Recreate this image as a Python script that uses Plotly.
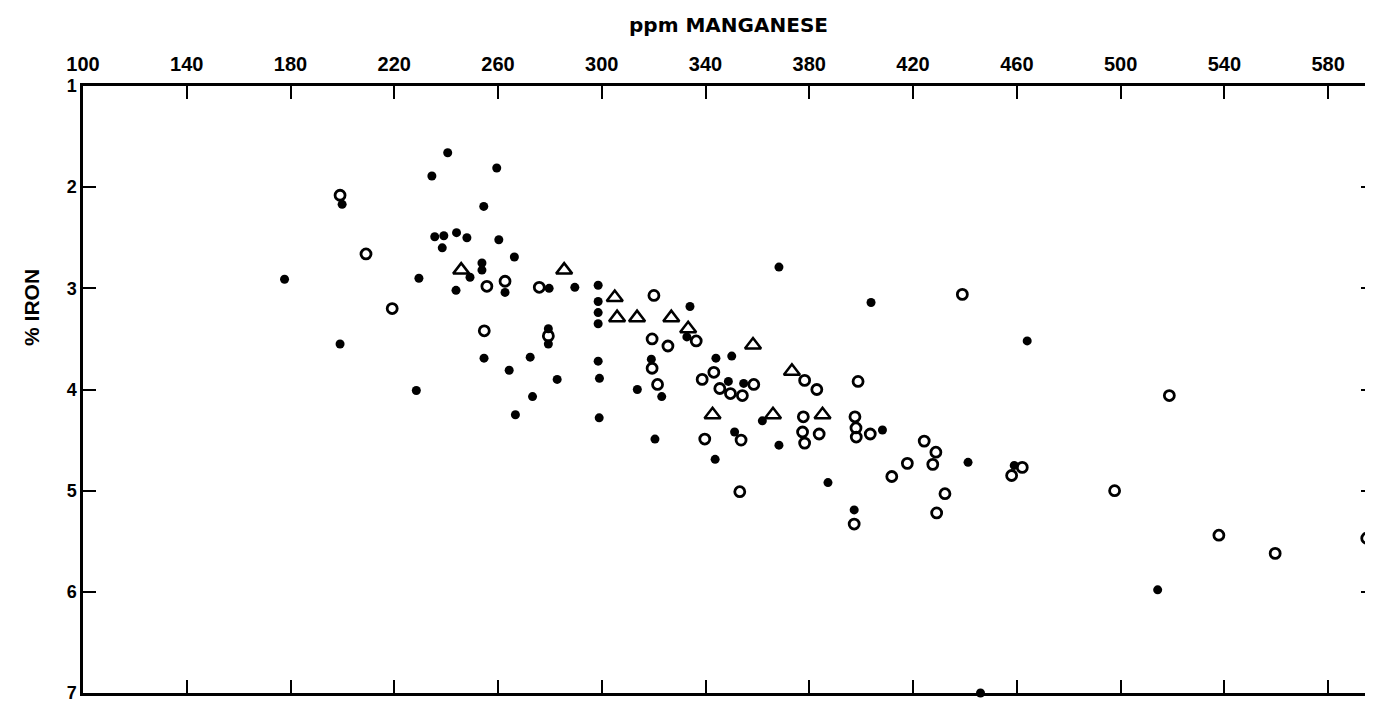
import plotly.graph_objects as go

# ppm manganese (x) and % iron (y)
solid_mn = [240.6, 259.5, 234.5, 199.9, 254.5, 235.6, 239.1, 244.0, 248.0, 260.3,
            238.5, 266.3, 249.2, 253.8, 253.8, 262.7, 229.5, 243.8, 199.1, 254.6,
            272.4, 264.3, 228.5, 273.3, 266.7, 177.7, 279.7, 289.6, 298.6, 298.6,
            298.6, 298.6, 334.0, 332.8, 279.4, 279.4, 298.6, 319.1, 344.0, 350.1,
            282.8, 299.1, 348.8, 354.7, 313.7, 323.1, 299.0, 361.9, 351.2, 320.5,
            343.7, 368.3, 403.8, 408.2, 368.3, 441.2, 387.2, 397.3, 459.0, 464.0,
            514.3, 446.0]
solid_fe = [1.66, 1.81, 1.89, 2.17, 2.19, 2.49, 2.48, 2.45, 2.50, 2.52,
            2.60, 2.69, 2.89, 2.75, 2.82, 3.04, 2.90, 3.02, 3.55, 3.69,
            3.68, 3.81, 4.01, 4.07, 4.25, 2.91, 3.00, 2.99, 2.97, 3.13,
            3.24, 3.35, 3.18, 3.48, 3.40, 3.55, 3.72, 3.70, 3.69, 3.67,
            3.90, 3.89, 3.92, 3.94, 4.00, 4.07, 4.28, 4.31, 4.42, 4.49,
            4.69, 2.79, 3.14, 4.40, 4.55, 4.72, 4.92, 5.19, 4.75, 3.52,
            5.98, 7.00]

open_mn = [199.1, 209.1, 255.7, 262.7, 219.2, 254.7, 275.9, 320.1, 336.4, 279.4,
           319.4, 325.5, 319.4, 321.5, 343.2, 338.7, 345.5, 349.6, 354.2, 358.6,
           339.7, 353.7, 439.0, 378.2, 382.9, 398.8, 377.7, 397.6, 377.4, 383.8,
           398.0, 398.1, 403.5, 378.2, 424.3, 428.8, 427.6, 417.8, 411.8, 397.3,
           432.3, 429.1, 458.0, 462.1, 518.8, 497.7, 537.9, 559.6, 594.9, 353.2]
open_fe = [2.08, 2.66, 2.98, 2.93, 3.20, 3.42, 2.99, 3.07, 3.52, 3.47,
           3.50, 3.57, 3.79, 3.95, 3.83, 3.90, 3.99, 4.04, 4.06, 3.95,
           4.49, 4.50, 3.06, 3.91, 4.00, 3.92, 4.27, 4.27, 4.42, 4.44,
           4.38, 4.47, 4.44, 4.53, 4.51, 4.62, 4.74, 4.73, 4.86, 5.33,
           5.03, 5.22, 4.85, 4.77, 4.06, 5.00, 5.44, 5.62, 5.47, 5.01]

tri_mn = [245.8, 285.5, 305.0, 305.9, 313.6, 326.8, 333.3, 358.3, 342.7, 373.3,
          366.0, 385.1]
tri_fe = [2.82, 2.82, 3.09, 3.29, 3.29, 3.29, 3.40, 3.56, 4.25, 3.82,
          4.25, 4.25]

x_ticks = list(range(100, 600, 40))
y_ticks = [1, 2, 3, 4, 5, 6, 7]

FONT = "Liberation Sans"
WIDE = "DejaVu Sans"

fig = go.Figure()
fig.add_trace(go.Scatter(x=solid_mn, y=solid_fe, mode="markers", cliponaxis=False,
                         marker=dict(symbol="circle", size=9, color="black")))
fig.add_trace(go.Scatter(x=open_mn, y=open_fe, mode="markers", cliponaxis=False,
                         marker=dict(symbol="circle-open", size=10, color="black",
                                     line=dict(width=2.8, color="black"))))
fig.add_trace(go.Scatter(x=tri_mn, y=tri_fe, mode="markers", cliponaxis=False,
                         marker=dict(symbol="triangle-up-open", size=14, color="black",
                                     line=dict(width=2.5, color="black"))))

fig.update_layout(
    width=1373, height=703, autosize=False,
    margin=dict(l=75, r=4, t=78, b=18),
    paper_bgcolor="white", plot_bgcolor="white",
    showlegend=False,
    font=dict(family=FONT, color="black"),
    xaxis=dict(
        side="top", range=[100, 597.7], tickmode="array", tickvals=x_ticks,
        ticktext=[str(v) for v in x_ticks],
        ticks="inside", ticklen=13, tickwidth=2, tickcolor="black",
        ticklabelstandoff=4,
        showline=True, linewidth=2.5, linecolor="black", mirror="ticks",
        showgrid=False, zeroline=False,
        tickfont=dict(family=FONT, size=20, color="black", weight="bold"),
        title=dict(text="ppm MANGANESE", standoff=16,
                   font=dict(family=WIDE, size=20, color="black", weight="bold")),
    ),
    yaxis=dict(
        range=[7, 1], tickmode="array", tickvals=y_ticks,
        ticktext=[str(v) for v in y_ticks],
        ticks="inside", ticklen=13, tickwidth=2, tickcolor="black",
        showline=True, linewidth=2.5, linecolor="black", mirror="ticks",
        showgrid=False, zeroline=False,
        tickfont=dict(family=FONT, size=18, color="black", weight="bold"),
    ),
    annotations=[dict(text="% IRON", textangle=-90, xref="paper", yref="paper",
                      x=-0.040, y=0.635, xanchor="center", yanchor="middle",
                      showarrow=False,
                      font=dict(family=FONT, size=21, color="black", weight="bold"))],
)

fig.write_html("out.html")
